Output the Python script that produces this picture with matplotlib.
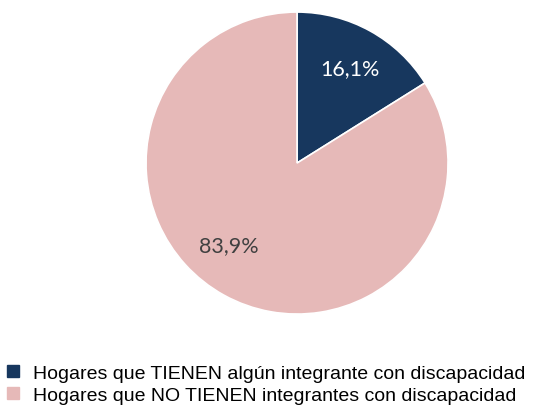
import matplotlib
matplotlib.use("Agg")
import matplotlib.pyplot as plt
from matplotlib.lines import Line2D
import numpy as np

categories = ["Hogares que TIENEN algún integrante con discapacidad",
              "Hogares que NO TIENEN integrantes con discapacidad"]
values = [16.1, 83.9]
labels = ["16,1%", "83,9%"]
colors = ["#17375E", "#E6B9B8"]
label_colors = ["white", "#404040"]

fig = plt.figure(figsize=(5.33, 4.14), dpi=100)
ax = fig.add_axes([0.274, 0.239, 0.5666, 0.7295])
wedges, _ = ax.pie(values, colors=colors, startangle=90, counterclock=False,
                   radius=1.0, wedgeprops=dict(edgecolor="white", linewidth=1.2))
ax.set_xlim(-1, 1)
ax.set_ylim(-1, 1)

# label positions
w0 = wedges[0]
ang0 = np.deg2rad((w0.theta1 + w0.theta2) / 2)
ax.text(0.72 * np.cos(ang0), 0.72 * np.sin(ang0), labels[0], ha="center", va="center",
        color=label_colors[0], fontsize=15.5, family="Lato")
ang1 = np.deg2rad(-130)
ax.text(0.705 * np.cos(ang1), 0.705 * np.sin(ang1), labels[1], ha="center", va="center",
        color=label_colors[1], fontsize=15.5, family="Lato")

handles = [Line2D([], [], marker="s", linestyle="none", markersize=9,
                  markerfacecolor=c, markeredgecolor=c) for c in colors]
fig.legend(handles, categories, loc="upper left", bbox_to_anchor=(-0.004, 0.132),
           frameon=False, prop=dict(family="Liberation Sans", size=14.0),
           handlelength=1.0, handletextpad=0.5, labelspacing=0.22, borderaxespad=0.0,
           borderpad=0.3)
fig.savefig("out.png", dpi=100)
